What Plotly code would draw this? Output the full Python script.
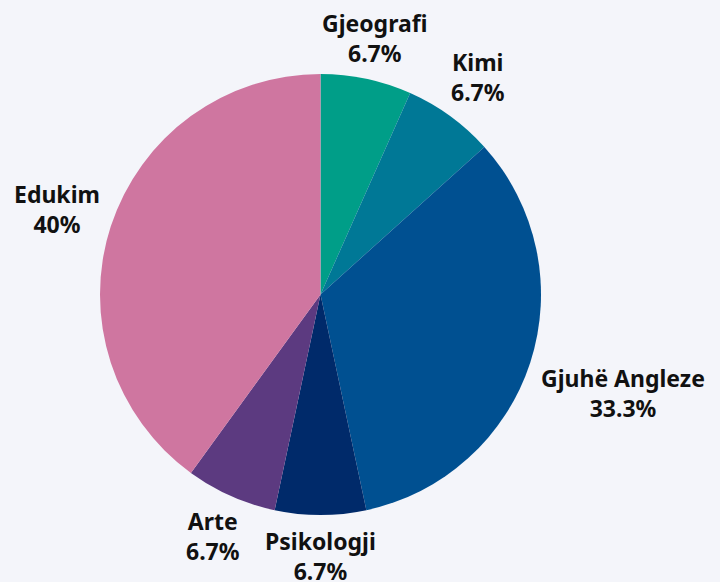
import math
import plotly.graph_objects as go

labels = ["Gjeografi", "Kimi", "Gjuhë Angleze", "Psikologji", "Arte", "Edukim"]
values = [1, 1, 5, 1, 1, 6]
colors = ["#009e88", "#007896", "#005091", "#002a6a", "#5c3a80", "#cf76a0"]

W, H = 720, 582
ML, MR, MT, MB = 100, 179, 74, 67
PW, PH = W - ML - MR, H - MT - MB
R = min(PW, PH) / 2
CX, CY = ML + PW / 2, MT + PH / 2
FONT_SIZE = 23
OFFSET = 12
LINE_H = 29


def text_width(s):
    w = 0
    for ch in s:
        if ch in "ijlftr. ":
            w += 7
        elif ch in "mw%":
            w += 19
        elif ch.isupper():
            w += 15
        else:
            w += 13
    return w * 1.05


fig = go.Figure(go.Pie(
    labels=labels,
    values=values,
    sort=False,
    direction="clockwise",
    rotation=0,
    marker=dict(colors=colors, line=dict(width=0)),
    textinfo="none",
    showlegend=False,
    hoverinfo="label+percent",
))

total = sum(values)
cum = 0
annotations = []
for lab, v in zip(labels, values):
    mid = (cum + v / 2) / total * 2 * math.pi
    cum += v
    ux, uy = math.sin(mid), -math.cos(mid)
    pct = f"{v / total * 100:.1f}".rstrip("0").rstrip(".") + "%"
    w = max(text_width(lab), text_width(pct))
    h = 2 * LINE_H
    ext = min(w / 2 / max(abs(ux), 1e-9), h / 2 / max(abs(uy), 1e-9))
    d = R + OFFSET + ext
    px, py = CX + ux * d, CY + uy * d
    annotations.append(dict(
        x=(px - ML) / PW, y=1 - (py - MT) / PH, xref="paper", yref="paper",
        text=f"<b>{lab}</b><br><b>{pct}</b>", showarrow=False,
        xanchor="center", yanchor="middle", align="center",
        font=dict(family="Noto Sans", size=FONT_SIZE, color="#111111"),
    ))

fig.update_layout(
    width=W,
    height=H,
    paper_bgcolor="#f4f5fa",
    plot_bgcolor="#f4f5fa",
    margin=dict(l=ML, r=MR, t=MT, b=MB),
    annotations=annotations,
)

fig.write_html(
    "out.html",
    config={"displayModeBar": False},
    post_script="document.body.style.margin='0';document.body.style.background='#f4f5fa';",
)
